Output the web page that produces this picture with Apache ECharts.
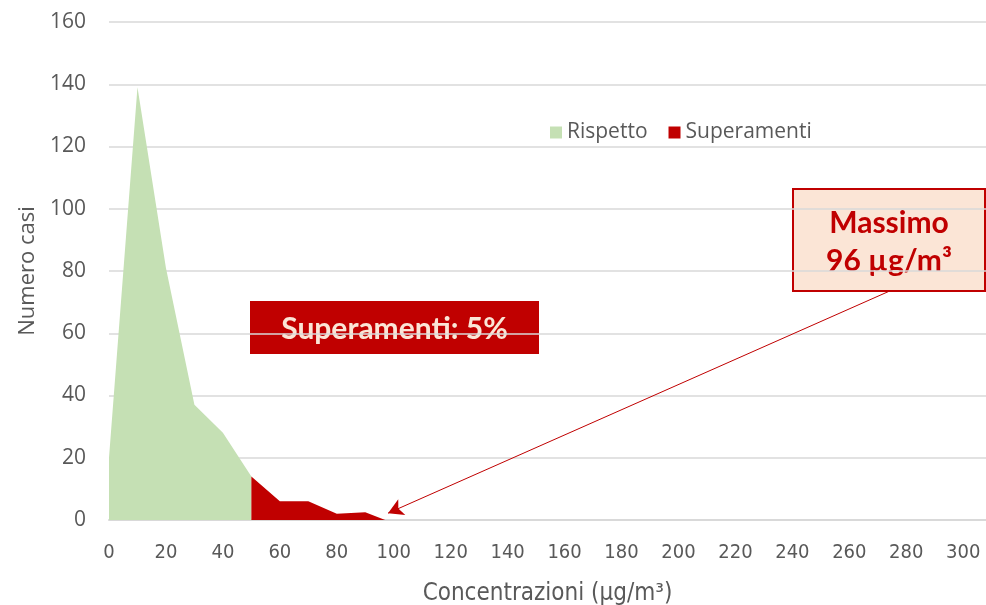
<!DOCTYPE html>
<html>
<head>
<meta charset="utf-8">
<script src="https://cdn.jsdelivr.net/npm/echarts@6/dist/echarts.min.js"></script>
<style>
  html, body { margin: 0; padding: 0; background: #ffffff; }
  #chart { width: 986px; height: 605px; }
</style>
</head>
<body>
<div id="chart"></div>
<script>
// Distribution of concentrations: number of cases per concentration value
const rispettoX = [0, 10, 20, 30, 40, 50];
const rispettoY = [20, 139, 81, 37, 28, 14];
const superamentiX = [50, 60, 70, 80, 90, 97];
const superamentiY = [14, 6, 6, 2, 2.5, 0];
const xTicks = [0, 20, 40, 60, 80, 100, 120, 140, 160, 180, 200, 220, 240, 260, 280, 300];
const yTicks = [0, 20, 40, 60, 80, 100, 120, 140, 160];
const seriesNames = ['Rispetto', 'Superamenti'];
const maxValue = 96;
const quotaSuperamenti = 5;
// arrow from the "Massimo" box down to the maximum
const arrowFrom = [274, 73.5];
const arrowTo = [98, 2.2];

const RED = '#C00000';
const GREEN = '#C5E0B4';
const TEXT = '#595959';
const NARROW = 'Liberation Sans Narrow, DejaVu Sans Condensed, Lato';

const toPairs = (xs, ys) => xs.map((x, i) => [x, ys[i]]);

const chart = echarts.init(document.getElementById('chart'), null, { renderer: 'canvas' });

chart.setOption({
  animation: false,
  backgroundColor: '#ffffff',
  grid: { left: 109, right: 0, top: 22, bottom: 85, containLabel: false, outerBoundsMode: 'none' },
  legend: {
    data: seriesNames,
    left: 545,
    top: 117,
    icon: 'rect',
    itemWidth: 12,
    itemHeight: 12,
    itemGap: 21,
    textStyle: { color: TEXT, fontSize: 21, fontFamily: 'Open Sans' }
  },
  xAxis: {
    type: 'value',
    min: 0,
    max: 308,
    interval: 20,
    name: 'Concentrazioni (µg/m³)',
    nameLocation: 'middle',
    nameGap: 62,
    nameTextStyle: { color: TEXT, fontSize: 24, fontFamily: NARROW },
    axisLine: { show: true, lineStyle: { color: '#D9D9D9', width: 2 } },
    axisTick: { show: false },
    splitLine: { show: false },
    axisLabel: {
      color: TEXT,
      fontSize: 20,
      margin: 23,
      fontFamily: NARROW,
      formatter: v => (xTicks.includes(v) ? String(v) : '')
    }
  },
  yAxis: {
    type: 'value',
    min: 0,
    max: 160,
    interval: 20,
    name: 'Numero casi',
    nameLocation: 'middle',
    nameGap: 70,
    nameRotate: 90,
    nameTextStyle: { color: TEXT, fontSize: 22, fontFamily: 'Open Sans' },
    axisLine: { show: false },
    axisTick: { show: false },
    splitLine: { show: true, lineStyle: { color: '#D9D9D9', width: 1.5 } },
    axisLabel: {
      color: TEXT,
      fontSize: 21,
      margin: 23,
      fontFamily: 'Open Sans',
      formatter: v => (yTicks.includes(v) ? String(v) : '')
    }
  },
  series: [
    {
      name: seriesNames[0],
      type: 'line',
      data: toPairs(rispettoX, rispettoY),
      showSymbol: false,
      symbol: 'none',
      lineStyle: { width: 0 },
      itemStyle: { color: GREEN },
      areaStyle: { color: GREEN, opacity: 1 },
      z: 2
    },
    {
      name: seriesNames[1],
      type: 'line',
      data: toPairs(superamentiX, superamentiY),
      showSymbol: false,
      symbol: 'none',
      lineStyle: { width: 0 },
      itemStyle: { color: RED },
      areaStyle: { color: RED, opacity: 1 },
      z: 3,
      markLine: {
        silent: true,
        symbol: ['none', 'arrow'],
        symbolSize: [13, 15],
        label: { show: false },
        lineStyle: { color: RED, width: 1, type: 'solid' },
        data: [[{ coord: arrowFrom }, { coord: arrowTo }]]
      }
    }
  ],
  graphic: [
    {
      type: 'group',
      left: 250,
      top: 301,
      children: [
        { type: 'rect', shape: { x: 0, y: 0, width: 289, height: 53 }, style: { fill: RED } },
        {
          type: 'text',
          style: {
            x: 144.5, y: 28,
            text: 'Superamenti: ' + quotaSuperamenti + '%',
            fill: '#FBE5D6',
            font: 'bold 30px Lato',
            align: 'center',
            verticalAlign: 'middle'
          }
        }
      ]
    },
    {
      type: 'group',
      left: 792,
      top: 188,
      children: [
        { type: 'rect', shape: { x: 0, y: 0, width: 192, height: 102 }, style: { fill: '#FBE5D6', stroke: RED, lineWidth: 2 } },
        {
          type: 'text',
          style: {
            x: 96, y: 53,
            text: 'Massimo\n' + maxValue + ' µg/m³',
            fill: RED,
            font: 'bold 30px Lato',
            lineHeight: 38,
            align: 'center',
            verticalAlign: 'middle'
          }
        }
      ]
    }
  ]
});
</script>
</body>
</html>
